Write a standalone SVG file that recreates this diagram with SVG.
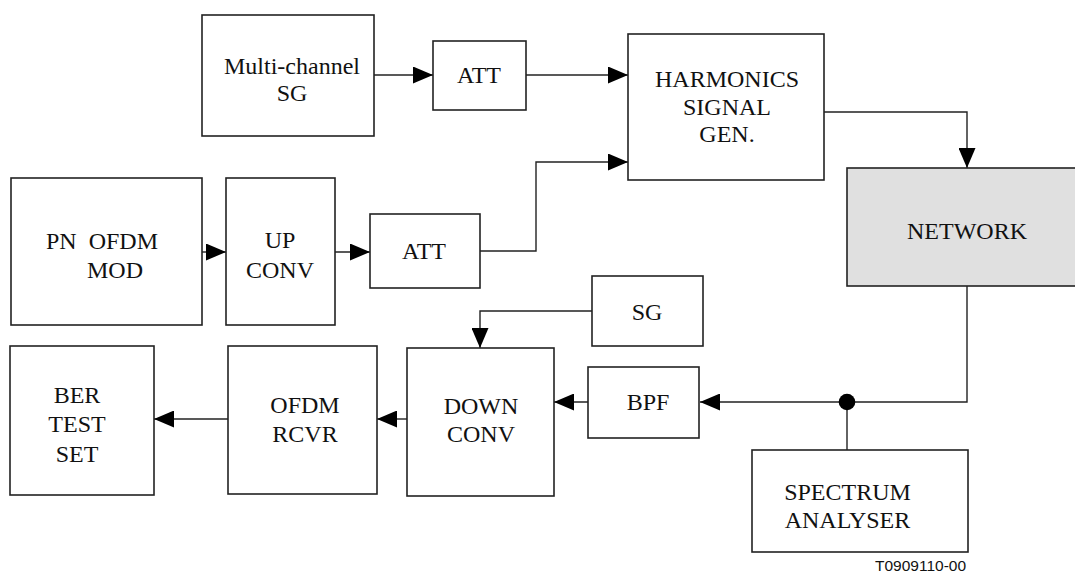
<svg xmlns="http://www.w3.org/2000/svg" width="1075" height="574" viewBox="0 0 1075 574">
<style>
.box{fill:#fff;stroke:#222;stroke-width:1.6}
.net{fill:#e0e0e0;stroke:#222;stroke-width:1.6}
text.lbl{font-family:'Liberation Serif','Times New Roman',Times,'DejaVu Serif',serif;font-size:24px;fill:#111;text-anchor:middle}
text.lbl-l{font-family:'Liberation Serif','Times New Roman',Times,'DejaVu Serif',serif;font-size:24px;fill:#111;white-space:pre}
.conn{fill:none;stroke:#222;stroke-width:1.4}
text.code{font-family:'Liberation Sans',Arial,sans-serif;font-size:15.5px;fill:#111}
</style>
<defs>
<marker id="arr" markerUnits="userSpaceOnUse" markerWidth="20" markerHeight="17" refX="20" refY="8.5" orient="auto">
<path d="M0,0 L20,8.5 L0,17 Z" fill="#000"/>
</marker>
</defs>
<g id="connectors">
<path class="conn" d="M374,75 H433" marker-end="url(#arr)"/>
<path class="conn" d="M526,75 H628" marker-end="url(#arr)"/>
<path class="conn" d="M480,251 H536 V162 H628" marker-end="url(#arr)"/>
<path class="conn" d="M824,112 H967 V168" marker-end="url(#arr)"/>
<path class="conn" d="M202,252 H226" marker-end="url(#arr)"/>
<path class="conn" d="M335,252 H370" marker-end="url(#arr)"/>
<path class="conn" d="M967,286 V402 H700" marker-end="url(#arr)"/>
<path class="conn" d="M847,402 V450"/>
<circle cx="847" cy="402" r="8.3" fill="#000"/>
<path class="conn" d="M588,402 H554" marker-end="url(#arr)"/>
<path class="conn" d="M592,311 H480 V348" marker-end="url(#arr)"/>
<path class="conn" d="M407,419 H377" marker-end="url(#arr)"/>
<path class="conn" d="M228,419 H154" marker-end="url(#arr)"/>
</g>
<g id="multichannel-sg">
<rect class="box" x="202" y="15" width="172" height="121"/>
<text class="lbl" font-family="Liberation Serif, serif" x="292" y="74">Multi-channel</text>
<text class="lbl" font-family="Liberation Serif, serif" x="292" y="101">SG</text>
</g>
<g id="att1">
<rect class="box" x="433" y="41" width="93" height="69"/>
<text class="lbl" x="479" y="83">ATT</text>
</g>
<g id="harmonics">
<rect class="box" x="628" y="34" width="196" height="146"/>
<text class="lbl" x="727" y="87">HARMONICS</text>
<text class="lbl" x="727" y="115">SIGNAL</text>
<text class="lbl" x="727" y="142">GEN.</text>
</g>
<g id="network">
<rect class="net" x="847" y="168" width="240" height="118"/>
<text class="lbl" x="967" y="239">NETWORK</text>
</g>
<g id="pn-ofdm-mod">
<rect class="box" x="11" y="178" width="191" height="147"/>
<text class="lbl-l" x="46" y="249" xml:space="preserve">PN  OFDM</text>
<text class="lbl-l" x="87" y="278">MOD</text>
</g>
<g id="up-conv">
<rect class="box" x="226" y="178" width="109" height="147"/>
<text class="lbl" x="280" y="248">UP</text>
<text class="lbl" x="280" y="278">CONV</text>
</g>
<g id="att2">
<rect class="box" x="370" y="214" width="110" height="74"/>
<text class="lbl" x="424" y="259">ATT</text>
</g>
<g id="sg">
<rect class="box" x="592" y="276" width="111" height="70"/>
<text class="lbl" x="647" y="320">SG</text>
</g>
<g id="ber-test-set">
<rect class="box" x="10" y="346" width="144" height="149"/>
<text class="lbl" x="77" y="403">BER</text>
<text class="lbl" x="77" y="432">TEST</text>
<text class="lbl" x="77" y="462">SET</text>
</g>
<g id="ofdm-rcvr">
<rect class="box" x="228" y="346" width="149" height="148"/>
<text class="lbl" x="305" y="413">OFDM</text>
<text class="lbl" x="305" y="442">RCVR</text>
</g>
<g id="down-conv">
<rect class="box" x="407" y="348" width="147" height="148"/>
<text class="lbl" x="481" y="414">DOWN</text>
<text class="lbl" x="481" y="442">CONV</text>
</g>
<g id="bpf">
<rect class="box" x="588" y="367" width="111" height="71"/>
<text class="lbl" x="648" y="410">BPF</text>
</g>
<g id="spectrum-analyser">
<rect class="box" x="752" y="450" width="216" height="102"/>
<text class="lbl" x="847.5" y="500">SPECTRUM</text>
<text class="lbl" x="847.5" y="528">ANALYSER</text>
</g>
<text class="code" x="875" y="571">T0909110-00</text>
</svg>
